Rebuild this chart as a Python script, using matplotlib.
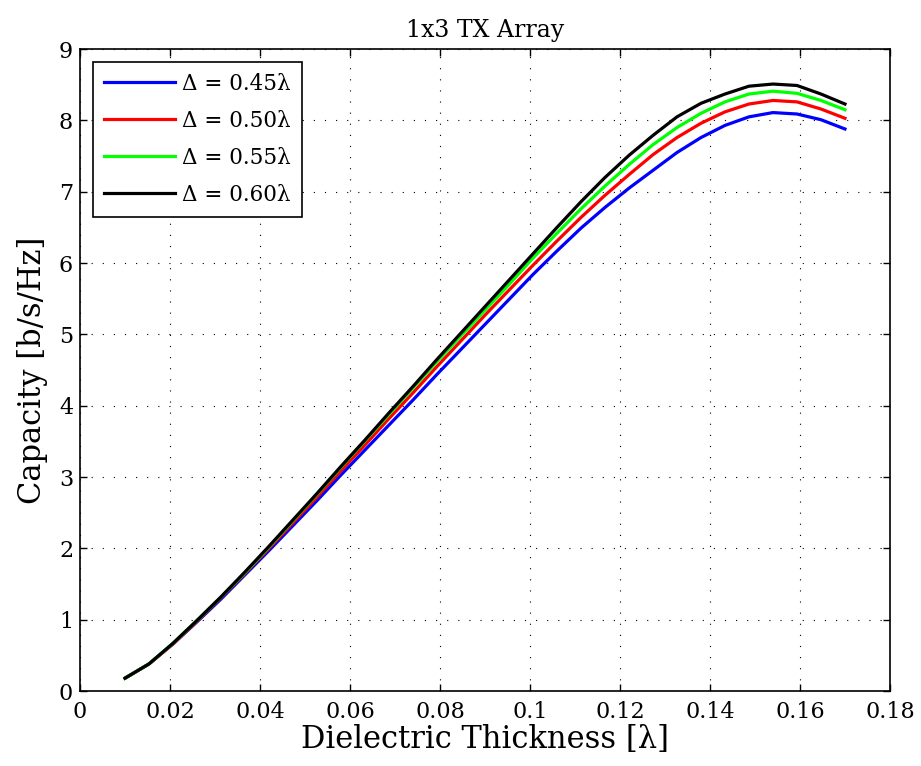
import numpy as np
import matplotlib
matplotlib.use("Agg")
import matplotlib.pyplot as plt

# dielectric thickness samples (in wavelengths)
thickness = np.linspace(0.01, 0.17, 31)

cap_045 = [0.18, 0.38, 0.66, 0.97, 1.29, 1.63, 1.97, 2.32, 2.67, 3.03, 3.38,
           3.73, 4.08, 4.44, 4.79, 5.14, 5.49, 5.84, 6.17, 6.49, 6.78, 7.05,
           7.30, 7.55, 7.76, 7.93, 8.05, 8.11, 8.09, 8.01, 7.88]
cap_050 = [0.18, 0.38, 0.66, 0.98, 1.31, 1.65, 2.00, 2.36, 2.72, 3.09, 3.45,
           3.82, 4.18, 4.55, 4.91, 5.27, 5.62, 5.97, 6.31, 6.64, 6.95, 7.24,
           7.52, 7.76, 7.96, 8.12, 8.23, 8.28, 8.26, 8.16, 8.03]
cap_055 = [0.18, 0.38, 0.67, 0.99, 1.32, 1.66, 2.02, 2.39, 2.76, 3.14, 3.51,
           3.88, 4.25, 4.62, 4.98, 5.34, 5.70, 6.07, 6.42, 6.76, 7.08, 7.38,
           7.66, 7.90, 8.10, 8.26, 8.37, 8.41, 8.38, 8.28, 8.15]
cap_060 = [0.18, 0.38, 0.67, 0.99, 1.32, 1.67, 2.03, 2.40, 2.77, 3.15, 3.52,
           3.90, 4.27, 4.65, 5.02, 5.39, 5.76, 6.13, 6.50, 6.86, 7.20, 7.51,
           7.79, 8.05, 8.24, 8.37, 8.48, 8.51, 8.49, 8.37, 8.23]

labels = ["\u0394 = 0.45\u03bb", "\u0394 = 0.50\u03bb", "\u0394 = 0.55\u03bb", "\u0394 = 0.60\u03bb"]
colors = ["#0000ff", "#ff0000", "#00ff00", "#000000"]
xtick_labels = ["0", "0.02", "0.04", "0.06", "0.08", "0.1", "0.12", "0.14", "0.16", "0.18"]

plt.rcParams['font.family'] = ['DejaVu Serif']

fig = plt.figure(figsize=(9.21, 7.66), dpi=100)
ax = fig.add_axes([0.0869, 0.0979, 0.8794, 0.838])

for y, c, lab in zip([cap_045, cap_050, cap_055, cap_060], colors, labels):
    ax.plot(thickness, y, color=c, lw=2.3, label=lab)

ax.set_xlim(0, 0.18)
ax.set_ylim(0, 9)
ax.set_xticks(np.arange(0, 0.181, 0.02))
ax.set_xticklabels(xtick_labels)
ax.set_yticks(range(0, 10))
ax.grid(True, linestyle=(0, (1, 9)), color="black", linewidth=0.8)
ax.tick_params(direction="in", top=True, right=True, labelsize=16, length=5, width=1)
ax.tick_params(axis="x", pad=7)
ax.tick_params(axis="y", pad=5)
for s in ax.spines.values():
    s.set_linewidth(1.2)

ax.set_xlabel("Dielectric Thickness [\u03bb]", fontsize=22, labelpad=1)
ax.set_ylabel("Capacity [b/s/Hz]", fontsize=22, labelpad=8)
ax.set_title("1x3 TX Array", fontsize=17, pad=9)

leg = ax.legend(loc="upper left", fontsize=15.5, fancybox=False, framealpha=1,
                edgecolor="black", handlelength=3.3, handletextpad=0.35,
                borderaxespad=0.6, labelspacing=0.7, borderpad=0.5)
leg.get_frame().set_linewidth(1.2)

fig.savefig("out.png", dpi=100)
